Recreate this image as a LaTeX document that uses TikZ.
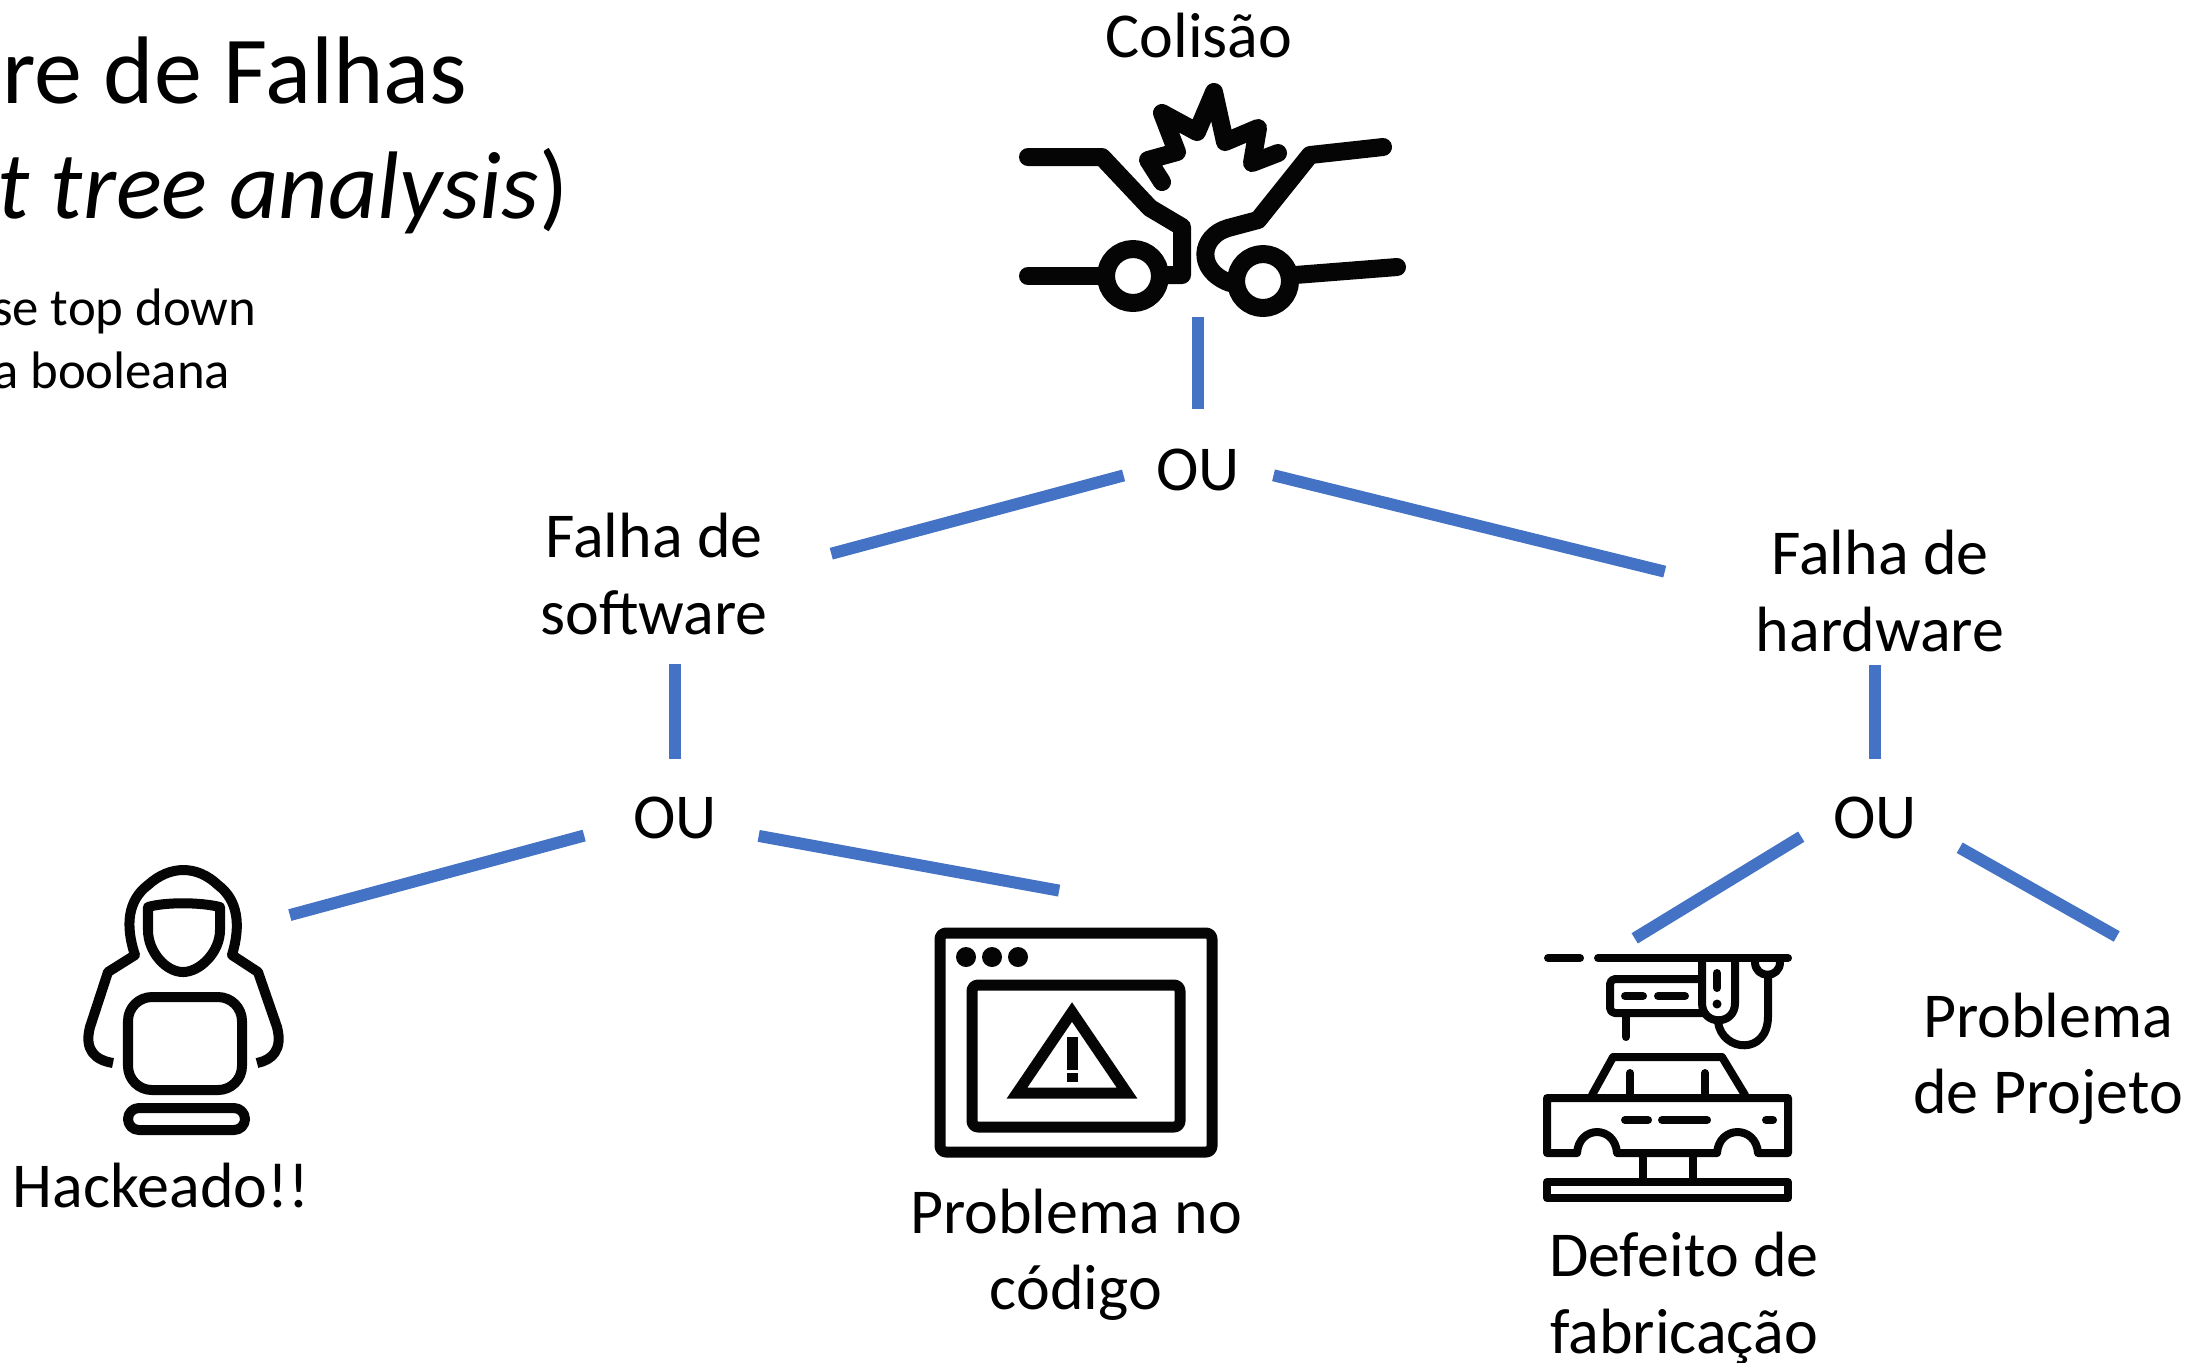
\documentclass[tikz,border=0pt]{standalone}
\usepackage{fontspec}
\setmainfont{Carlito}
\usepackage{xcolor}
\usetikzlibrary{
    calc,
    positioning
}
\definecolor{ligacaoAzul}{HTML}{4472C4}
\definecolor{iconePreto}{HTML}{050505}
\tikzset{
    rotulo/.style={align=center, font=\fontsize{18.2}{21.7}\selectfont},
    tituloTexto/.style={anchor=base east, inner sep=0pt, font=\fontsize{27.3}{33}\selectfont},
    notaTexto/.style={anchor=base east, inner sep=0pt, font=\fontsize{15}{18}\selectfont},
    caixaIcone/.style={inner sep=0pt, outer sep=0pt},
    ligacao/.style={draw=ligacaoAzul, line width=0.12cm},
    traco/.style={draw=iconePreto, line cap=round, line join=round},
}
\begin{document}
\begin{tikzpicture}[x=0.01cm, y=-0.01cm]
    \useasboundingbox (0, 0) rectangle (2189, 1362);

    \node[tituloTexto] (tituloA) at (468, 103) {re de Falhas};
    \node[tituloTexto] (tituloB) at (569, 218) {\itshape t tree analysis\/\upshape)};
    \node[notaTexto] (notaA) at (257, 325) {se top down};
    \node[notaTexto] (notaB) at (231, 388) {a booleana};

    \node[rotulo] (colisao) at (1199, 35) {Colisão};
    \node[rotulo] (ouTopo) at (1198, 470) {OU};
    \node[rotulo] (falhaSoft) at (654, 574) {Falha de\\software};
    \node[rotulo] (falhaHard) at (1880, 591) {Falha de\\hardware};
    \node[rotulo] (ouEsq) at (675, 818) {OU};
    \node[rotulo] (ouDir) at (1875, 818) {OU};
    \node[rotulo] (hackeado) at (161, 1185) {Hackeado!!};
    \node[rotulo] (problemaCod) at (1076, 1255) {Problema no\\código};
    \node[rotulo] (defeito) at (1684, 1298) {Defeito de\\fabricação};
    \node[rotulo] (problemaProj) at (2048, 1059) {Problema\\de Projeto};

    \node[caixaIcone, minimum width=3.8cm, minimum height=2.27cm] (iconColisao) at (1198, 198) {};
    \node[caixaIcone, minimum width=1.98cm, minimum height=2.7cm] (iconHacker) at (184, 1000) {};
    \node[caixaIcone, minimum width=2.85cm, minimum height=2.39cm] (iconCodigo) at (1075, 1039) {};
    \node[caixaIcone, minimum width=2.49cm, minimum height=2.49cm] (iconFabrica) at (1668, 1078) {};

    \draw[ligacao, shorten <=0.05cm, shorten >=0.28cm] (iconColisao.south) -- (ouTopo.north);
    \draw[ligacao, shorten <=0.21cm, shorten >=0.53cm] (ouTopo.west) -- (falhaSoft.3);
    \draw[ligacao, shorten <=0.22cm, shorten >=0.81cm] (ouTopo.east) -- (falhaHard.west);
    \draw[ligacao, shorten <=0.17cm, shorten >=0.26cm] (falhaSoft.south -| ouEsq.north) -- (ouEsq.north);
    \draw[ligacao, shorten <=0.01cm, shorten >=0.26cm] (falhaHard.south -| ouDir.north) -- (ouDir.north);
    \draw[ligacao, shorten <=0.38cm, shorten >=0.07cm] (ouEsq.188.6) -- (iconHacker.40);
    \draw[ligacao, shorten <=0.30cm, shorten >=1.61cm] (ouEsq.-13) -- (iconCodigo.north east);
    \draw[ligacao, shorten <=0.23cm, shorten >=0.29cm] (ouDir.187.5) -- (iconFabrica.115);
    \draw[ligacao, shorten <=0.35cm, shorten >=0.90cm] (ouDir.-13.7) -- (problemaProj.north east);

    \draw[traco, line width=0.18cm] (1028, 157) -- (1102, 157) -- (1150, 208) -- (1182, 227) -- (1182, 275) -- (1160, 275);
    \draw[traco, line width=0.18cm] (1028, 276) -- (1103, 276);
    \draw[traco, line width=0.18cm] (1133, 276) circle[radius=27];
    \draw[traco, line width=0.18cm] (1263, 281) circle[radius=27];
    \draw[traco, line width=0.18cm] (1295, 275) -- (1397, 267);
    \draw[traco, line width=0.18cm] (1383, 147) -- (1310, 155) -- (1258, 220) -- (1228, 228) .. controls (1200, 236) and (1195, 270) .. (1230, 283);
    \draw[traco, line width=0.18cm] (1162, 182) -- (1148, 160) -- (1177, 152) -- (1162, 113) -- (1197, 132) -- (1214, 92) -- (1225, 142) -- (1258, 128) -- (1252, 163) -- (1278, 153);

    \draw[traco, line width=0.1cm, line cap=butt] (113, 1063) .. controls (95, 1060) and (84, 1050) .. (90, 1027) -- (108, 972) -- (135, 955) .. controls (125, 925) and (128, 900) .. (148, 885) .. controls (170, 865) and (197, 865) .. (218, 885) .. controls (238, 900) and (241, 925) .. (232, 955) -- (258, 972) -- (277, 1027) .. controls (283, 1050) and (272, 1060) .. (257, 1063);
    \draw[traco, line width=0.1cm] (148, 907) .. controls (165, 902) and (200, 902) .. (220, 907) -- (220, 930) .. controls (220, 952) and (200, 972) .. (183, 972) .. controls (166, 972) and (148, 952) .. (148, 930) -- cycle;
    \draw[traco, line width=0.1cm, rounded corners=0.24cm] (128, 997) rectangle (242, 1090);
    \draw[traco, line width=0.1cm, rounded corners=0.11cm] (128, 1108) rectangle (245, 1130);

    \draw[traco, line width=0.11cm, rounded corners=0.06cm] (940, 933) rectangle (1212, 1152);
    \draw[traco, line width=0.11cm, rounded corners=0.06cm] (972, 985) rectangle (1180, 1127);
    \foreach \px in {966, 992, 1018} {
        \fill[iconePreto] (\px, 957) circle[radius=10];
    }
    \draw[traco, line width=0.11cm, line join=miter] (1072, 1012) -- (1017, 1093) -- (1127, 1093) -- cycle;
    \fill[iconePreto] (1067, 1037) rectangle (1078, 1070);
    \fill[iconePreto] (1067, 1073) rectangle (1078, 1082);

    \draw[traco, line width=0.08cm] (1548, 958) -- (1580, 958);
    \draw[traco, line width=0.08cm] (1598, 958) -- (1788, 958);
    \draw[traco, line width=0.08cm, rounded corners=0.05cm] (1700, 979) -- (1610, 979) -- (1610, 1013) -- (1705, 1013);
    \draw[traco, line width=0.08cm] (1702, 962) -- (1702, 1003) .. controls (1702, 1026) and (1735, 1026) .. (1735, 1003) -- (1735, 962);
    \draw[traco, line width=0.08cm] (1717, 973) -- (1717, 988);
    \fill[iconePreto] (1717, 1004) circle[radius=4.5];
    \draw[traco, line width=0.08cm] (1625, 996) -- (1643, 996);
    \draw[traco, line width=0.08cm] (1658, 996) -- (1685, 996);
    \draw[traco, line width=0.08cm] (1626, 1015) -- (1626, 1037);
    \draw[traco, line width=0.08cm] (1718, 1022) .. controls (1722, 1052) and (1768, 1056) .. (1768, 1016) -- (1768, 975);
    \draw[traco, line width=0.08cm] (1755, 962) .. controls (1755, 979) and (1780, 979) .. (1780, 962);
    \draw[traco, line width=0.08cm] (1592, 1095) -- (1613, 1057) -- (1722, 1057) -- (1745, 1095);
    \draw[traco, line width=0.08cm] (1630, 1073) -- (1630, 1095);
    \draw[traco, line width=0.08cm] (1705, 1073) -- (1705, 1095);
    \draw[traco, line width=0.08cm] (1547, 1098) -- (1788, 1098) -- (1788, 1153) -- (1758, 1153) .. controls (1756, 1125) and (1719, 1125) .. (1717, 1153) -- (1617, 1153) .. controls (1615, 1125) and (1579, 1125) .. (1577, 1153) -- (1547, 1153) -- cycle;
    \draw[traco, line width=0.08cm] (1643, 1155) -- (1643, 1180);
    \draw[traco, line width=0.08cm] (1693, 1155) -- (1693, 1180);
    \draw[traco, line width=0.08cm] (1547, 1182) rectangle (1788, 1198);
    \draw[traco, line width=0.08cm] (1625, 1120) -- (1648, 1120);
    \draw[traco, line width=0.08cm] (1662, 1120) -- (1707, 1120);
    \draw[traco, line width=0.08cm] (1766, 1120) -- (1773, 1120);
\end{tikzpicture}
\end{document}
